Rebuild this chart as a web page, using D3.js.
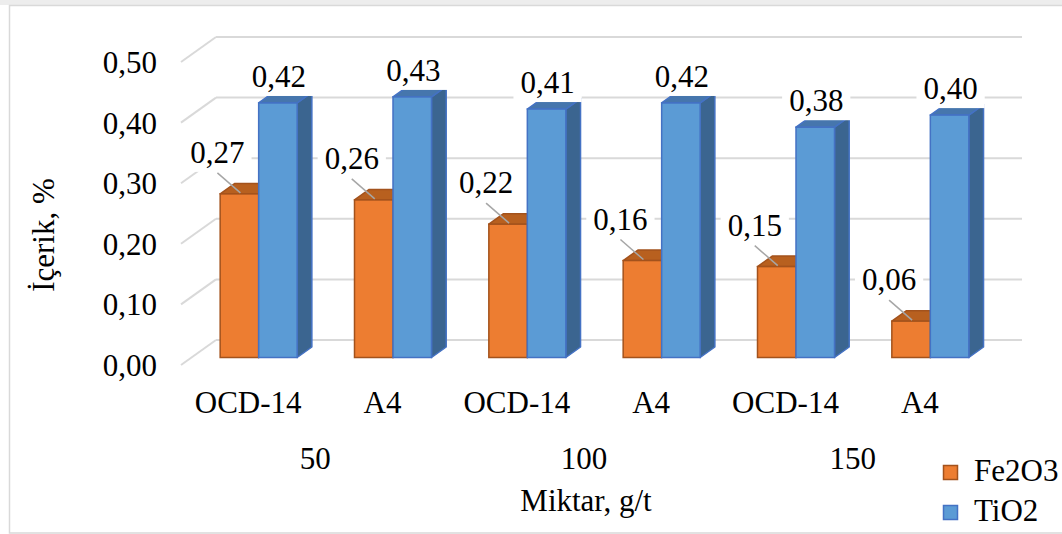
<!DOCTYPE html>
<html>
<head>
<meta charset="utf-8">
<script src="https://cdn.jsdelivr.net/npm/d3@7"></script>
<style>
  body { margin: 0; background: #fff; }
</style>
</head>
<body>
<div id="chart"></div>
<script>
const categories = ['OCD-14', 'A4', 'OCD-14', 'A4', 'OCD-14', 'A4'];
const groups = ['50', '100', '150'];
const fe2o3 = [0.27, 0.26, 0.22, 0.16, 0.15, 0.06];
const tio2 = [0.42, 0.43, 0.41, 0.42, 0.38, 0.40];
const yTicks = [0, 0.1, 0.2, 0.3, 0.4, 0.5];
const seriesNames = ['Fe2O3', 'TiO2'];

const W = 1062;
const H = 534;
const depth = { dx: 35, dy: -25 };
const barFront = 0.3;
const barBack = 0.72;
const barW = 38.5;
const fontFamily = '"Liberation Serif"';
const font = 31;

const colors = {
  Fe2O3: { front: '#ed7d31', top: '#b8601f', side: '#a9531a', stroke: '#a3521c' },
  TiO2: { front: '#5b9bd5', top: '#4676ad', side: '#3b6590', stroke: '#4472c4' }
};

const svg = d3
  .select('#chart')
  .append('svg')
  .attr('width', W)
  .attr('height', H)
  .style('display', 'block');

// faint watermark strip + chart border
svg.append('rect').attr('x', 0).attr('y', 0).attr('width', W).attr('height', 5).attr('fill', '#ededed');
svg
  .append('rect')
  .attr('x', 9.5)
  .attr('y', 5.5)
  .attr('width', W)
  .attr('height', H - 6.5)
  .attr('fill', '#fff')
  .attr('stroke', '#d9d9d9')
  .attr('stroke-width', 1.5);

const x = d3.scaleBand().domain(d3.range(categories.length)).range([181, 987]);
const y = d3.scaleLinear().domain([0, 0.5]).range([365, 62]);
const fmt = (v) => d3.format('.2f')(v).replace('.', ',');

drawGrid();
drawBars();
drawAxes();
drawLegend();

function addText(g, tx, ty, str, anchor) {
  return g
    .append('text')
    .attr('x', tx)
    .attr('y', ty)
    .attr('text-anchor', anchor || 'middle')
    .attr('fill', '#000')
    .style('font-family', fontFamily)
    .style('font-size', font + 'px')
    .text(str);
}

function drawGrid() {
  const g = svg.append('g').attr('stroke', '#d9d9d9').attr('stroke-width', 2).attr('fill', 'none');
  const x0 = x.range()[0];
  const x1 = x.range()[1];
  yTicks.forEach((v) => {
    g.append('line')
      .attr('x1', x0)
      .attr('y1', y(v))
      .attr('x2', x0 + depth.dx)
      .attr('y2', y(v) + depth.dy);
    g.append('line')
      .attr('x1', x0 + depth.dx)
      .attr('y1', y(v) + depth.dy)
      .attr('x2', x1 + depth.dx)
      .attr('y2', y(v) + depth.dy);
  });
}

function bar3d(g, left, v, c) {
  const fx = depth.dx * barFront;
  const fy = depth.dy * barFront;
  const bx = depth.dx * barBack;
  const by = depth.dy * barBack;
  const yt = y(v);
  const yb = y(0);
  const r = left + barW;
  const pts = (arr) => arr.map((p) => p.join(',')).join(' ');

  g.append('polygon')
    .attr('points', pts([[r + fx, yt + fy], [r + bx, yt + by], [r + bx, yb + by], [r + fx, yb + fy]]))
    .attr('fill', c.side)
    .attr('stroke', c.stroke)
    .attr('stroke-width', 1.5)
    .attr('stroke-linejoin', 'round');
  g.append('polygon')
    .attr('points', pts([[left + fx, yt + fy], [r + fx, yt + fy], [r + bx, yt + by], [left + bx, yt + by]]))
    .attr('fill', c.top)
    .attr('stroke', c.stroke)
    .attr('stroke-width', 1.5)
    .attr('stroke-linejoin', 'round');
  g.append('rect')
    .attr('x', left + fx)
    .attr('y', yt + fy)
    .attr('width', barW)
    .attr('height', yb - yt)
    .attr('fill', c.front)
    .attr('stroke', c.stroke)
    .attr('stroke-width', 1.5);

  return { cx: left + fx + barW / 2, top: yt + fy };
}

function boxedLabel(g, tx, ty, str) {
  const box = g.append('rect').attr('fill', '#fff');
  const t = addText(g, tx, ty, str);
  const bb = t.node().getBBox();
  box
    .attr('x', bb.x - 7)
    .attr('y', bb.y + 2)
    .attr('width', bb.width + 14)
    .attr('height', bb.height);
}

function drawBars() {
  const g = svg.append('g');
  const labels = svg.append('g');

  categories.forEach((cat, i) => {
    const c = x(i) + x.bandwidth() / 2;
    const o = bar3d(g, c - barW, fe2o3[i], colors.Fe2O3);
    const b = bar3d(g, c, tio2[i], colors.TiO2);

    // Fe2O3 label sits up-left with a leader line
    const lx = o.cx - 22;
    const ly = o.top - 31;
    labels
      .append('line')
      .attr('x1', lx)
      .attr('y1', ly + 10)
      .attr('x2', o.cx + 1)
      .attr('y2', o.top - 1)
      .attr('stroke', '#a6a6a6')
      .attr('stroke-width', 1.5);
    boxedLabel(labels, lx, ly, fmt(fe2o3[i]));

    boxedLabel(labels, b.cx + 1, b.top - 16, fmt(tio2[i]));
  });
}

function drawAxes() {
  const g = svg.append('g');

  yTicks.forEach((v) => {
    addText(g, 157, y(v) + 11, fmt(v), 'end');
  });

  categories.forEach((cat, i) => {
    addText(g, x(i) + x.bandwidth() / 2, 413, cat);
  });

  groups.forEach((grp, i) => {
    addText(g, x(i * 2) + x.bandwidth(), 469, grp);
  });

  addText(g, 586, 511, 'Miktar, g/t');

  addText(g, 0, 0, 'İçerik, %').attr('transform', 'translate(54,235) rotate(-90)');
}

function drawLegend() {
  const g = svg.append('g');
  seriesNames.forEach((name, i) => {
    g.append('rect')
      .attr('x', 943.5)
      .attr('y', 465.5 + i * 40)
      .attr('width', 14)
      .attr('height', 14)
      .attr('fill', colors[name].front)
      .attr('stroke', colors[name].stroke)
      .attr('stroke-width', 1.5);
    addText(g, 974, 481 + i * 40, name, 'start');
  });
}
</script>
</body>
</html>
